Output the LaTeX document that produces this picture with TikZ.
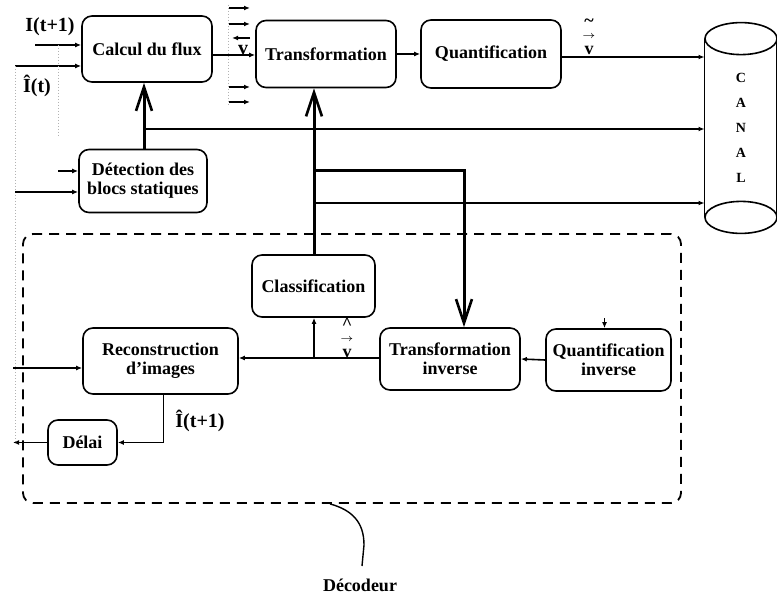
\documentclass[tikz,border=0pt]{standalone}
\usepackage{fontspec}
\setmainfont{Liberation Serif}
\usepackage{amsmath}
\usepackage{tikz}
\usetikzlibrary{arrows.meta}

\begin{document}
\begin{tikzpicture}[x=0.5pt,y=-0.5pt,
    bloc/.style={draw,line width=0.8pt,rounded corners=5pt,align=center,inner sep=1pt,
      font=\fontsize{9}{9.5}\selectfont\bfseries},
    lab/.style={font=\fontsize{10}{10}\selectfont\bfseries,inner sep=1pt},
    fl/.style={line width=0.8pt,-{Latex[length=3pt,width=2.4pt]}},
    gros/.style={line width=1.5pt,-{Straight Barb[length=12pt,width=8pt,line width=1.3pt]}},
    pointill/.style={gray!60,densely dotted,line width=0.5pt}]
  \useasboundingbox[fill=white] (0,0) rectangle (777,593);
  % blocs du codeur
  \node[bloc,minimum width=65pt,minimum height=33pt] (flux) at (147,49) {Calcul du flux};
  \node[bloc,minimum width=70pt,minimum height=33.5pt] (transf) at (326,54) {Transformation};
  \node[bloc,minimum width=70pt,minimum height=34pt] (quant) at (491,54) {Quantification};
  \node[bloc,minimum width=64pt,minimum height=31.5pt] (detect) at (143,181) {D\'etection des\\blocs statiques};
  % canal
  \node[font=\fontsize{7}{12.5}\selectfont\bfseries,align=center,minimum width=36pt,minimum height=89pt] (canal) at (741,128) {C\\A\\N\\A\\L};
  \draw[line width=0.8pt] (canal.north west) -- (canal.south west);
  \draw[line width=0.8pt] ([xshift=-0.4pt]canal.north east) -- ([xshift=-0.4pt]canal.south east);
  \draw[line width=0.8pt] (canal.north) ellipse [x radius=18pt,y radius=8pt];
  \draw[line width=0.8pt] (canal.south) ellipse [x radius=18pt,y radius=8pt];
  % decodeur
  \node[draw,dashed,dash pattern=on 5pt off 3.5pt,line width=0.9pt,rounded corners=5pt,
    minimum width=329pt,minimum height=134.5pt] (dec) at (352,368.5) {};
  \node[bloc,minimum width=61.5pt,minimum height=31pt] (classif) at (313.5,286) {Classification};
  \node[bloc,minimum width=77.5pt,minimum height=33pt] (recon) at (160.5,361) {Reconstruction\\d'images};
  \node[bloc,minimum width=70pt,minimum height=31pt] (tinv) at (450,359) {Transformation\\inverse};
  \node[bloc,minimum width=62.5pt,minimum height=31pt] (qinv) at (608.5,360) {Quantification\\inverse};
  \node[bloc,minimum width=34.5pt,minimum height=22.5pt] (delai) at (82.5,442.5) {D\'elai};
  \node[lab,font=\fontsize{9}{9}\selectfont\bfseries] (declab) at (360,585) {D\'ecodeur};

  % entrees
  \coordinate (eI) at (35,45);
  \coordinate (eIh) at (15,66);
  \draw[fl] (eI) -- (eI -| flux.west);
  \draw[fl] (eIh) -- (eIh -| flux.west);
  \node[lab] (lI) at (50,27) {I(t+1)};
  \node[lab] (lIh) at (37,86) {\^I(t)};
  \draw[pointill] (eIh) -- (15,442);
  \draw[pointill] (58,45) -- (58,137);
  \coordinate (eD1) at (58,171);
  \coordinate (eD2) at (15,192);
  \draw[fl] (eD1) -- (eD1 -| detect.west);
  \draw[fl] (eD2) -- (eD2 -| detect.west);

  % vecteurs
  \draw[pointill] (228,5) -- (228,105);
  \foreach \y in {8,24,87,102}
    \draw[fl] (229,\y) -- (250,\y);
  \draw[fl] (250,38) -- (232,38);
  \draw[fl] ([yshift=-3pt]flux.east) -- ([yshift=-3pt]flux.east -| transf.west);
  \node[lab] (lv) at (243,50) {v};
  \draw[fl] (transf.east) -- (quant.west);
  \draw[fl] ([yshift=-1.5pt]quant.east) -- ([yshift=-1.5pt]quant.east -| canal.west);
  \node[lab,align=center,font=\fontsize{9}{5}\selectfont\bfseries] (lvt) at (589,37) {\~{}\\[1pt]$\scriptscriptstyle\rightarrow$\\[3pt]v};

  % statique
  \draw[gros] (detect.north -| 144,0) -- (flux.south -| 144,0);
  \coordinate (j1) at (144,129);
  \draw[fl] (j1) -- (j1 -| canal.west);

  % classification
  \draw[gros] (classif.north -| 314,0) -- (transf.south -| 314,0);
  \coordinate (j2) at (314,171);
  \coordinate (j2b) at (464,171);
  \draw[gros] (j2) -- (j2b) -- (j2b |- tinv.north);
  \coordinate (j3) at (314,203);
  \draw[fl] (j3) -- (j3 -| canal.west);
  \coordinate (j4) at (314,358);
  \draw[fl] (j4) -- (j4 |- classif.south);
  \draw[fl] (tinv.west |- j4) -- (recon.east |- j4);
  \node[lab,align=center,font=\fontsize{9}{5}\selectfont\bfseries] (lvh) at (347,338) {\^{}\\[1pt]$\scriptscriptstyle\rightarrow$\\[3pt]v};
  \draw[fl] (qinv.west) -- (tinv.east);
  \draw[fl] ([xshift=-2pt,yshift=5pt]qinv.north) -- ([xshift=-2pt]qinv.north);

  % reconstruction
  \coordinate (eR) at (13,368);
  \draw[fl] (eR) -- (eR -| recon.west);
  \draw[fl] ([xshift=1.5pt]recon.south) |- (delai.east);
  \node[lab] (lIr) at (200,421) {\^I(t+1)};
  \coordinate (sD) at (13,442.5);
  \draw[fl] (delai.west) -- (sD);

  % etiquette decodeur
  \coordinate (tail) at (362,566);
  \draw[line width=0.7pt] ([xshift=-11pt]dec.south) .. controls (352,510) and (364,522) .. (364,545) -- (tail);
\end{tikzpicture}
\end{document}
